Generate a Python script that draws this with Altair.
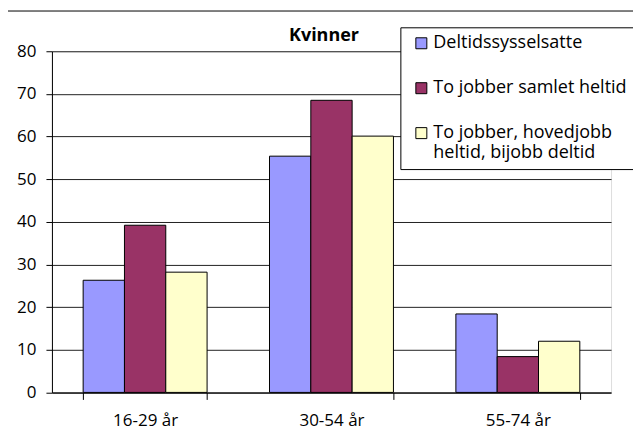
import altair as alt
import pandas as pd

categories = ["16-29 år", "30-54 år", "55-74 år"]
series = [
    "Deltidssysselsatte",
    "To jobber samlet heltid",
    "To jobber, hovedjobb|heltid, bijobb deltid",
]
deltid = [26.3, 55.4, 18.4]
samlet_heltid = [39.2, 68.5, 8.4]
hovedjobb_heltid = [28.2, 60.1, 12.0]
colors = ["#9999FF", "#993366", "#FFFFCC"]
y_ticks = [0, 10, 20, 30, 40, 50, 60, 70, 80]
chart_title = "Kvinner"

rows = []
for i, c in enumerate(categories):
    for s, vals in zip(series, [deltid, samlet_heltid, hovedjobb_heltid]):
        rows.append({"alder": c, "serie": s, "verdi": vals[i]})
df = pd.DataFrame(rows)

FONT = "Open Sans"

bars = alt.Chart(df).mark_bar(stroke="black", strokeWidth=1).encode(
    x=alt.X("alder:N", sort=categories, title=None,
            scale=alt.Scale(paddingInner=0.335, paddingOuter=0.1675),
            axis=alt.Axis(labelAngle=0, tickBand="extent", tickSize=7,
                          labelPadding=13, labelFontSize=17, labelFont=FONT,
                          labelColor="black", domainColor="black",
                          tickColor="black", grid=False)),
    xOffset=alt.XOffset("serie:N", sort=series, scale=alt.Scale(paddingInner=0, paddingOuter=0)),
    y=alt.Y("verdi:Q", title=None,
            scale=alt.Scale(domain=[0, 80], nice=False),
            axis=alt.Axis(values=y_ticks, tickSize=6, labelPadding=10,
                          labelFontSize=17, labelFont=FONT, labelColor="black",
                          domainColor="black", tickColor="black",
                          gridColor="#222", gridWidth=1)),
    color=alt.Color("serie:N", sort=series, title=None,
                    scale=alt.Scale(domain=series, range=colors),
                    legend=alt.Legend(orient="none", legendX=349, legendY=-24,
                                      fillColor="white", strokeColor="black",
                                      padding=7, symbolType="square",
                                      symbolSize=121, symbolStrokeColor="black",
                                      symbolStrokeWidth=1, symbolOffset=5,
                                      labelOffset=3, labelFontSize=18,
                                      labelFont=FONT, labelColor="black",
                                      labelLimit=400, rowPadding=27,
                                      labelExpr="split(datum.label, '|')")),
)

one = pd.DataFrame({"t": [chart_title]})

topline = alt.Chart(one).mark_rule(color="black", strokeWidth=1).encode(
    x=alt.value(-44), x2=alt.value(600), y=alt.value(-40.3)
)

title_text = alt.Chart(one).mark_text(
    font=FONT, fontSize=18, fontWeight="bold", color="black",
    align="center", baseline="alphabetic"
).encode(text="t:N", x=alt.value(272.5), y=alt.value(-10))

chart = alt.layer(topline, bars, title_text).properties(
    width=560, height=341.7,
    padding={"left": 44, "top": 43, "right": 22, "bottom": 36},
    autosize=alt.AutoSizeParams(type="none"),
).configure_view(stroke="#555", strokeWidth=1).configure(background="white")

chart.save("out.html", embed_options={"renderer": "svg", "actions": False})
